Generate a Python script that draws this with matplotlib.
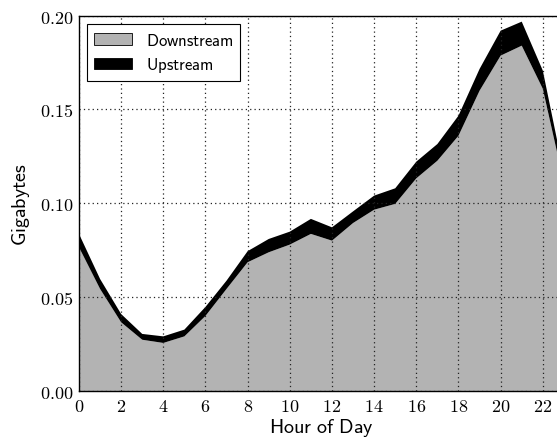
import numpy as np
import matplotlib
matplotlib.use("Agg")
import matplotlib.pyplot as plt

plt.rcParams['mathtext.fontset'] = 'cm'

# hourly traffic per user (GB)
hours = list(range(24))
downstream = [0.0766, 0.0544, 0.0366, 0.0273, 0.0256, 0.0291, 0.0400, 0.0544,
              0.0686, 0.0739, 0.0780, 0.0837, 0.0801, 0.0895, 0.0966, 0.0997,
              0.1133, 0.1227, 0.1360, 0.1600, 0.1787, 0.1840, 0.1610, 0.1110]
upstream = [0.0071, 0.0053, 0.0044, 0.0031, 0.0035, 0.0036, 0.0048, 0.0044,
            0.0059, 0.0071, 0.0069, 0.0080, 0.0071, 0.0062, 0.0075, 0.0083,
            0.0089, 0.0089, 0.0107, 0.0116, 0.0133, 0.0128, 0.0097, 0.0050]
xticks = list(range(0, 23, 2))
yticks = [0.00, 0.05, 0.10, 0.15, 0.20]

fig = plt.figure(figsize=(5.57, 4.39), dpi=100)
ax = fig.add_axes([0.1418, 0.1071, 0.8706, 0.855])

ax.stackplot(hours, downstream, upstream, colors=['#b3b3b3', 'black'],
             labels=[r'$\mathsf{Downstream}$', r'$\mathsf{Upstream}$'],
             edgecolor='none', zorder=1)

ax.set_xlim(0, 23)
ax.set_ylim(0, 0.2)
ax.set_xticks(xticks)
ax.set_xticklabels(['$%d$' % t for t in xticks], fontsize=13)
ax.set_yticks(yticks)
ax.set_yticklabels(['$%.2f$' % t for t in yticks], fontsize=13)
ax.tick_params(length=0, pad=4)

ax.grid(True, linestyle=(0, (1, 2.5)), color='#222222', linewidth=0.9)
ax.set_axisbelow(False)
for s in ax.spines.values():
    s.set_linewidth(1.0)
    s.set_zorder(3)

ax.set_xlabel(r'$\mathsf{Hour\ of\ Day}$', fontsize=14.5, labelpad=1)
ax.set_ylabel(r'$\mathsf{Gigabytes}$', fontsize=14.5, labelpad=6)

leg = ax.legend(loc='upper left', fontsize=12, fancybox=False,
                edgecolor='black', framealpha=1, handlelength=2.3,
                borderaxespad=0.5, labelspacing=0.4)
leg.get_frame().set_linewidth(0.8)
for h in leg.legend_handles:
    h.set_edgecolor('black')
    h.set_linewidth(0.6)

fig.savefig('out.png', dpi=100)
